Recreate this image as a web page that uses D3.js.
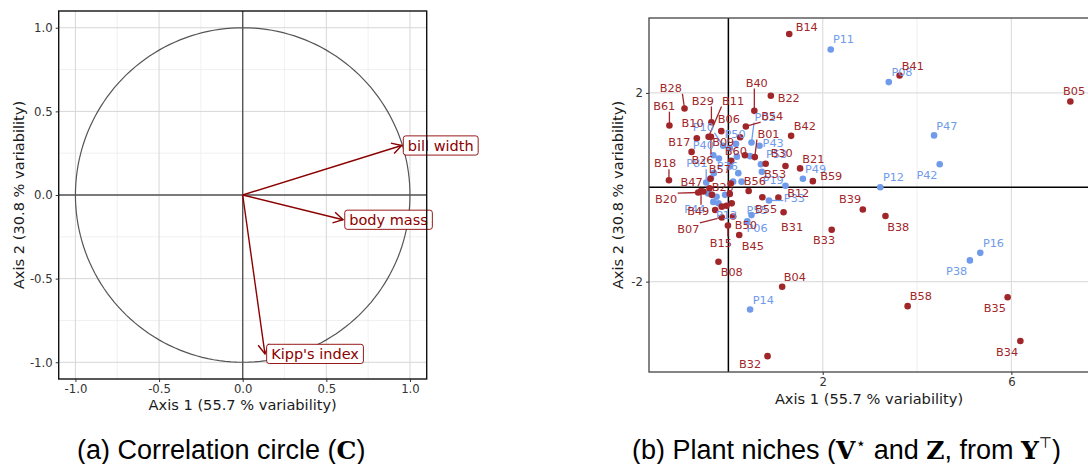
<!DOCTYPE html>
<html><head><meta charset="utf-8">
<script src="https://cdn.jsdelivr.net/npm/d3@7"></script>
<style>body{margin:0;background:#fff}svg{display:block}</style>
</head><body>
<svg id="c" width="1088" height="464"></svg>
<script>
// ---------- DATA: panel (a) correlation circle ----------
const varNames = ["bill width", "body mass", "Kipp's index"];
const varX = [0.95, 0.60, 0.133];
const varY = [0.296, -0.148, -0.95];
const leftTicks = [-1.0, -0.5, 0.0, 0.5, 1.0];
const leftMinor = [-0.75, -0.25, 0.25, 0.75];

// ---------- DATA: panel (b) plant niches ----------
const bNames = ["B01","B04","B05","B06","B07","B08","B09","B10","B11","B12","B14","B15","B17","B18","B20","B21","B22","B23","B26","B28","B29","B30","B31","B32","B33","B34","B35","B38","B39","B40","B41","B42","B45","B47","B49","B50","B53","B54","B55","B56","B57","B58","B59","B60","B61",
  "B02","B03","B13","B16","B19","B24","B25","B27"];
const bX = [0.56,1.14,7.25,-0.15,-0.14,-0.21,0.25,-0.67,-0.42,1.06,1.29,-0.01,-0.78,-1.26,-0.64,1.52,0.90,-0.35,-0.37,-0.93,-0.36,1.21,1.17,0.83,2.19,6.19,5.92,3.33,2.85,0.55,3.63,1.33,0.23,-0.38,-0.58,0.10,0.79,0.37,0.72,0.43,0.06,3.80,1.79,0.35,-1.25,
  0.03,-0.14,-0.04,-0.28,-0.40,-0.53,0.07,0.05];
const bY = [0.64,-2.11,1.82,1.19,-0.64,-1.58,1.06,1.04,1.07,-0.22,3.25,-0.81,0.75,0.15,-0.11,0.40,1.94,-0.16,1.07,1.67,1.38,0.45,-0.53,-3.58,-0.90,-3.26,-2.33,-0.61,-0.47,1.62,2.37,1.09,-1.01,0.18,-0.08,-0.62,0.50,1.29,-0.21,-0.08,0.56,-2.52,0.13,0.68,1.31,
  -0.14,-0.41,-0.39,-0.48,-0.02,-0.09,-0.34,0.08];
const bLabX = [0.85,1.41,7.33,0.01,-0.85,0.07,-0.11,-0.76,0.10,1.48,1.66,-0.16,-1.04,-1.34,-1.32,1.80,1.28,-0.12,-0.55,-1.22,-0.54,1.13,1.35,0.46,2.03,5.91,5.65,3.60,2.58,0.60,3.91,1.62,0.52,-0.78,-0.64,0.37,0.99,0.93,0.80,0.56,-0.18,4.08,2.18,0.16,-1.36,
  null,null,null,null,null,null,null,null];
const bLabY = [1.14,-1.90,2.04,1.45,-0.88,-1.80,0.97,1.36,1.84,-0.11,3.39,-1.17,0.97,0.51,-0.25,0.61,1.89,0.00,0.58,2.11,1.84,0.72,-0.84,-3.74,-1.12,-3.49,-2.55,-0.84,-0.25,2.22,2.58,1.31,-1.24,0.12,-0.50,-0.80,0.28,1.51,-0.45,0.13,0.39,-2.30,0.24,0.77,1.73,
  null,null,null,null,null,null,null,null];

const pNames = ["P02","P06","P08","P10","P11","P12","P13","P14","P16","P19","P33","P38","P40","P42","P43","P44","P47","P49","P50","P53","P55","P76","P81",
  "P01","P03","P04","P05","P07","P09","P15","P17","P18","P20","P21","P22","P23","P24"];
const pX = [0.49,0.40,3.40,-0.11,2.17,3.22,-0.21,0.46,5.34,0.71,0.86,5.12,-0.32,4.48,0.66,-0.43,4.36,1.58,0.16,0.69,0.49,0.03,-0.47,
  0.03,-0.20,0.18,0.46,0.21,0.10,0.28,-0.37,-0.31,1.21,-0.35,-0.25,-0.32,-0.07];
const pY = [0.95,-0.72,2.23,0.88,2.92,0.00,-0.34,-2.59,-1.39,0.33,-0.28,-1.55,0.68,0.49,0.88,-0.13,1.10,0.18,0.92,0.49,-0.59,0.44,0.10,
  0.83,0.61,0.65,0.66,0.30,0.12,0.12,0.19,0.30,0.03,-0.16,-0.20,-0.31,-0.16];
const pLabX = [0.78,0.61,3.68,-0.53,2.44,3.50,-0.04,0.74,5.62,0.95,1.40,4.84,-0.53,4.21,0.95,-0.71,4.63,1.85,0.14,1.02,0.61,-0.02,-0.67,
  null,null,null,null,null,null,null,null,null,null,null,null,null,null];
const pLabY = [1.50,-0.86,2.44,1.28,3.14,0.21,-0.59,-2.39,-1.17,0.15,-0.23,-1.77,0.90,0.27,0.93,-0.45,1.31,0.38,1.14,0.71,-0.47,0.46,0.51,
  null,null,null,null,null,null,null,null,null,null,null,null,null,null];
const rightXMajor = [2, 6];
const rightXMinor = [0, 4];
const rightYMajor = [-2, 2];
const rightYMinor = [0];

// ---------- DRAWING ----------
const svg = d3.select("#c");
const FONT = "'DejaVu Sans', sans-serif";
const RED = "#a0262a", BLUE = "#6f9bea", DARKRED = "#8b0000";

// ===== Panel (a) =====
const L = {x0: 58.7, x1: 426.7, y0: 11, y1: 379};
const lx = d3.scaleLinear().domain([-1.1, 1.1]).range([L.x0, L.x1]);
const ly = d3.scaleLinear().domain([-1.1, 1.1]).range([L.y1, L.y0]);
const gA = svg.append("g");
gA.append("rect").attr("x", L.x0).attr("y", L.y0).attr("width", L.x1 - L.x0).attr("height", L.y1 - L.y0).attr("fill", "#fff");
function gridA(vals, col, w) {
  vals.forEach(v => {
    gA.append("line").attr("x1", lx(v)).attr("x2", lx(v)).attr("y1", L.y0).attr("y2", L.y1).attr("stroke", col).attr("stroke-width", w);
    gA.append("line").attr("y1", ly(v)).attr("y2", ly(v)).attr("x1", L.x0).attr("x2", L.x1).attr("stroke", col).attr("stroke-width", w);
  });
}
gridA(leftMinor, "#ececec", 0.8);
gridA(leftTicks, "#d6d6d6", 1);
gA.append("line").attr("x1", lx(0)).attr("x2", lx(0)).attr("y1", L.y0).attr("y2", L.y1).attr("stroke", "#555").attr("stroke-width", 1.4);
gA.append("line").attr("y1", ly(0)).attr("y2", ly(0)).attr("x1", L.x0).attr("x2", L.x1).attr("stroke", "#555").attr("stroke-width", 1.4);
const circ = d3.range(0, 361, 2).map(a => [Math.cos(a * Math.PI / 180), Math.sin(a * Math.PI / 180)]);
gA.append("path").attr("d", d3.line().x(d => lx(d[0])).y(d => ly(d[1]))(circ)).attr("fill", "none").attr("stroke", "#555").attr("stroke-width", 1.2);
varNames.forEach((n, i) => {
  const x0 = lx(0), y0 = ly(0), x1 = lx(varX[i]), y1 = ly(varY[i]);
  gA.append("line").attr("x1", x0).attr("y1", y0).attr("x2", x1).attr("y2", y1).attr("stroke", DARKRED).attr("stroke-width", 1.4);
  const ang = Math.atan2(y1 - y0, x1 - x0), hl = 11, ha = Math.PI / 6;
  const p = d3.path();
  p.moveTo(x1 - hl * Math.cos(ang - ha), y1 - hl * Math.sin(ang - ha));
  p.lineTo(x1, y1);
  p.lineTo(x1 - hl * Math.cos(ang + ha), y1 - hl * Math.sin(ang + ha));
  gA.append("path").attr("d", p.toString()).attr("fill", "none").attr("stroke", DARKRED).attr("stroke-width", 1.4);
});
varNames.forEach((n, i) => {
  const x1 = lx(varX[i]), y1 = ly(varY[i]);
  const g = gA.append("g");
  const t = g.append("text").attr("x", x1 + 1.7 + 4.5).attr("y", y1).attr("dy", "0.36em")
    .attr("font-family", FONT).attr("font-size", 14.5).attr("fill", DARKRED).text(n);
  const w = t.node().getComputedTextLength();
  g.insert("rect", "text").attr("x", x1 + 1.7).attr("y", y1 - 9.6).attr("width", w + 9).attr("height", 19.2)
    .attr("rx", 2.5).attr("fill", "#fff").attr("stroke", DARKRED).attr("stroke-width", 0.9);
});
gA.append("rect").attr("x", L.x0).attr("y", L.y0).attr("width", L.x1 - L.x0).attr("height", L.y1 - L.y0)
  .attr("fill", "none").attr("stroke", "#111").attr("stroke-width", 1.4);
function styleAxis(g) {
  g.select(".domain").remove();
  g.selectAll(".tick line").attr("stroke", "#333");
  g.selectAll(".tick text").attr("font-family", FONT).attr("font-size", 11.7).attr("fill", "#333");
}
gA.append("g").attr("transform", `translate(0,${L.y1})`)
  .call(d3.axisBottom(lx).tickValues(leftTicks).tickFormat(d => d.toFixed(1)).tickSize(3).tickPadding(3)).call(styleAxis);
gA.append("g").attr("transform", `translate(${L.x0},0)`)
  .call(d3.axisLeft(ly).tickValues(leftTicks).tickFormat(d => d.toFixed(1)).tickSize(3).tickPadding(3)).call(styleAxis);
gA.append("text").attr("x", (L.x0 + L.x1) / 2).attr("y", 405).attr("dy", "0.36em").attr("text-anchor", "middle")
  .attr("font-family", FONT).attr("font-size", 14.6).attr("fill", "#1a1a1a").text("Axis 1 (55.7 % variability)");
gA.append("text").attr("transform", `translate(18.3,${(L.y0 + L.y1) / 2}) rotate(-90)`).attr("dy", "0.36em").attr("text-anchor", "middle")
  .attr("font-family", FONT).attr("font-size", 14.6).attr("fill", "#1a1a1a").text("Axis 2 (30.8 % variability)");

// ===== Panel (b) =====
const R = {x0: 649, x1: 1089, y0: 18, y1: 372};
const rx = d3.scaleLinear().domain([-1.683, 7.645]).range([R.x0, R.x1]);
const ry = d3.scaleLinear().domain([-3.916, 3.589]).range([R.y1, R.y0]);
const gB = svg.append("g");
gB.append("rect").attr("x", R.x0).attr("y", R.y0).attr("width", R.x1 - R.x0).attr("height", R.y1 - R.y0).attr("fill", "#fff");
rightXMinor.forEach(v => gB.append("line").attr("x1", rx(v)).attr("x2", rx(v)).attr("y1", R.y0).attr("y2", R.y1).attr("stroke", "#efefef").attr("stroke-width", 1));
rightYMinor.forEach(v => gB.append("line").attr("y1", ry(v)).attr("y2", ry(v)).attr("x1", R.x0).attr("x2", R.x1).attr("stroke", "#efefef").attr("stroke-width", 1));
rightXMajor.forEach(v => gB.append("line").attr("x1", rx(v)).attr("x2", rx(v)).attr("y1", R.y0).attr("y2", R.y1).attr("stroke", "#dedede").attr("stroke-width", 1.2));
rightYMajor.forEach(v => gB.append("line").attr("y1", ry(v)).attr("y2", ry(v)).attr("x1", R.x0).attr("x2", R.x1).attr("stroke", "#dedede").attr("stroke-width", 1.2));
gB.append("line").attr("x1", rx(0)).attr("x2", rx(0)).attr("y1", R.y0).attr("y2", R.y1).attr("stroke", "#000").attr("stroke-width", 1.5);
gB.append("line").attr("y1", ry(0)).attr("y2", ry(0)).attr("x1", R.x0).attr("x2", R.x1).attr("stroke", "#000").attr("stroke-width", 1.5);

function pts(names, xs, ys, col) {
  names.forEach((n, i) => gB.append("circle").attr("cx", rx(xs[i])).attr("cy", ry(ys[i])).attr("r", 3.3).attr("fill", col));
}
function labels(names, xs, ys, lxs, lys, col) {
  names.forEach((n, i) => {
    if (lxs[i] == null) return;
    const px = rx(xs[i]), py = ry(ys[i]), tx = rx(lxs[i]), ty = ry(lys[i]);
    const t = gB.append("text").attr("x", tx).attr("y", ty).attr("dy", "0.36em").attr("text-anchor", "middle")
      .attr("font-family", FONT).attr("font-size", 11.3).attr("fill", col).text(n);
    const hw = t.node().getComputedTextLength() / 2 + 0.5, hh = 6;
    const cx = Math.max(tx - hw, Math.min(px, tx + hw)), cy = Math.max(ty - hh, Math.min(py, ty + hh));
    const d = Math.hypot(cx - px, cy - py);
    if (d > 10) {
      gB.insert("line", "text").attr("x1", px).attr("y1", py).attr("x2", cx).attr("y2", cy).attr("stroke", col).attr("stroke-width", 1.3);
    }
  });
}
pts(pNames, pX, pY, BLUE);
pts(bNames, bX, bY, RED);
labels(pNames, pX, pY, pLabX, pLabY, BLUE);
labels(bNames, bX, bY, bLabX, bLabY, RED);

gB.append("rect").attr("x", R.x0).attr("y", R.y0).attr("width", R.x1 - R.x0).attr("height", R.y1 - R.y0)
  .attr("fill", "none").attr("stroke", "#444").attr("stroke-width", 1.3);
gB.append("g").attr("transform", `translate(0,${R.y1})`)
  .call(d3.axisBottom(rx).tickValues(rightXMajor).tickFormat(d => String(d)).tickSize(3).tickPadding(3)).call(styleAxis);
gB.append("g").attr("transform", `translate(${R.x0},0)`)
  .call(d3.axisLeft(ry).tickValues(rightYMajor).tickFormat(d => String(d)).tickSize(3).tickPadding(3)).call(styleAxis);
gB.append("text").attr("x", (R.x0 + R.x1) / 2).attr("y", 399).attr("dy", "0.36em").attr("text-anchor", "middle")
  .attr("font-family", FONT).attr("font-size", 14.6).attr("fill", "#1a1a1a").text("Axis 1 (55.7 % variability)");
gB.append("text").attr("transform", `translate(618,${(R.y0 + R.y1) / 2}) rotate(-90)`).attr("dy", "0.36em").attr("text-anchor", "middle")
  .attr("font-family", FONT).attr("font-size", 14.6).attr("fill", "#1a1a1a").text("Axis 2 (30.8 % variability)");

// ===== Captions =====
const CF = "'Liberation Sans', Arial, sans-serif", SF = "'DejaVu Serif', serif";
const capA = svg.append("text").attr("x", 77).attr("y", 459).attr("font-family", CF).attr("font-size", 27).attr("fill", "#000");
capA.append("tspan").text("(a) Correlation circle (");
capA.append("tspan").attr("font-family", SF).attr("font-weight", "bold").attr("font-size", 25).text("C");
capA.append("tspan").text(")");
const capB = svg.append("text").attr("x", 632).attr("y", 459).attr("font-family", CF).attr("font-size", 27).attr("fill", "#000");
capB.append("tspan").text("(b) Plant niches (");
capB.append("tspan").attr("font-family", SF).attr("font-weight", "bold").attr("font-size", 25).text("V");
capB.append("tspan").attr("font-size", 17).attr("dy", -10).attr("font-family", "'DejaVu Sans'").text("\u22C6");
capB.append("tspan").attr("dy", 10).text(" and ");
capB.append("tspan").attr("font-family", SF).attr("font-weight", "bold").attr("font-size", 25).text("Z");
capB.append("tspan").text(", from ");
capB.append("tspan").attr("font-family", SF).attr("font-weight", "bold").attr("font-size", 25).text("Y");
capB.append("tspan").attr("font-size", 15).attr("dy", -11).attr("font-family", "'DejaVu Sans'").text("\u22A4");
capB.append("tspan").attr("dy", 11).text(")");
</script>
</body></html>
